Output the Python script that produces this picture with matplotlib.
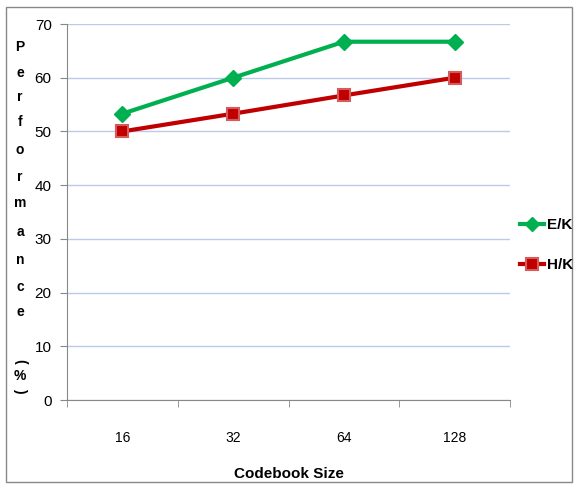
import matplotlib.pyplot as plt
from matplotlib.patches import Rectangle

sizes = ['16', '32', '64', '128']
ek = [53.3, 60.0, 66.7, 66.7]
hk = [50.0, 53.3, 56.7, 60.0]

plt.rcParams['font.family'] = ['Liberation Sans', 'DejaVu Sans']

W, H = 575, 484
fig = plt.figure(figsize=(W / 100, H / 100), dpi=100)
ax = fig.add_axes([67 / W, 1 - 400 / H, (510 - 67) / W, (400 - 24) / H])

x = range(len(sizes))
ax.plot(x, ek, color='#00b050', lw=3, marker='D', ms=8, mfc='#00b050', mec='#00b050', label='E/K', zorder=3)
ax.plot(x, hk, color='#c00000', lw=3, marker='s', ms=9, mfc='#c00000', mec='#d65c5c', mew=1.5, label='H/K', zorder=3)

ax.set_xlim(-0.5, 3.5)
ax.set_ylim(0, 70)
ax.set_yticks(range(0, 71, 10))
ax.set_xticks(x)
ax.set_xticklabels(sizes)
ax.set_xticks([-0.5, 0.5, 1.5, 2.5, 3.5], minor=True)
ax.tick_params(axis='x', which='major', length=0, pad=22, labelsize=10)
ax.tick_params(axis='x', which='minor', length=5, color='#888888')
ax.tick_params(axis='y', length=5, color='#888888', labelsize=11, pad=6)
ax.yaxis.grid(True, color='#b9cbe9', lw=1)
ax.set_axisbelow(True)
for s in ['top', 'right']:
    ax.spines[s].set_visible(False)
for s in ['left', 'bottom']:
    ax.spines[s].set_color('#888888')

ax.set_xlabel('Codebook Size', fontsize=11, fontweight='bold', labelpad=16)

# stacked y label
letters = list('Performance')
ys = [47, 73, 97, 122, 150, 177, 203, 232, 260, 287, 312]
for ch, yy in zip(letters, ys):
    fig.text(20 / W, 1 - yy / H, ch, ha='center', va='center', fontsize=10, fontweight='bold')
fig.text(20 / W, 1 - 361 / H, '(', ha='center', va='center', fontsize=10, fontweight='bold', rotation=-90)
fig.text(20 / W, 1 - 376 / H, '%', ha='center', va='center', fontsize=10, fontweight='bold')
fig.text(20 / W, 1 - 390 / H, ')', ha='center', va='center', fontsize=10, fontweight='bold', rotation=-90)

leg = fig.legend(loc='center left', bbox_to_anchor=(506 / W, 1 - 245 / H), frameon=False,
                 prop={'weight': 'bold', 'size': 11}, handlelength=1.6, handletextpad=0.2,
                 labelspacing=1.7, markerscale=0.9)

fig.patches.append(Rectangle((6 / W, 2 / H), 566 / W, 475 / H, transform=fig.transFigure,
                             fill=False, edgecolor='#888888', lw=1))

fig.savefig('out.png', dpi=100)
